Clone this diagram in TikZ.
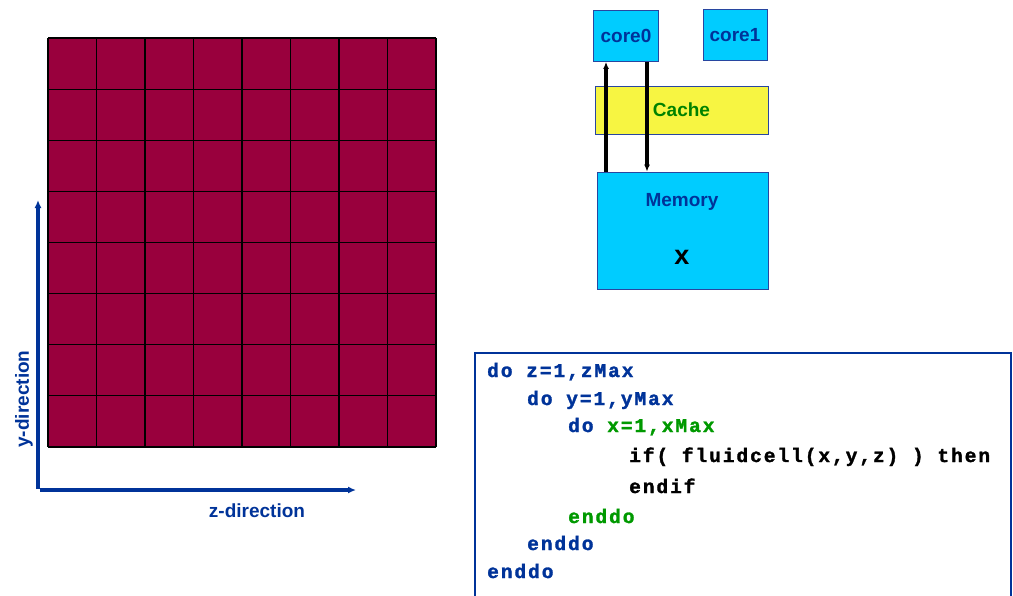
\documentclass[tikz,border=0pt]{standalone}
\usepackage{fontspec}
\setmainfont{Liberation Sans}
\newfontfamily\codefont[LetterSpace=10,FakeBold=1.6]{Liberation Mono Bold}
\usetikzlibrary{arrows.meta}
\definecolor{maroonc}{RGB}{153,0,61}
\definecolor{dblue}{RGB}{0,51,153}
\definecolor{cyanbox}{RGB}{0,204,255}
\definecolor{cacheY}{RGB}{247,245,66}
\definecolor{cgreen}{RGB}{0,130,0}
\definecolor{codegreen}{RGB}{0,153,0}
\definecolor{boxline}{RGB}{40,70,160}
\newcommand\csp{\hspace*{13.7pt}}
\tikzset{
  hw/.style={draw=boxline, line width=0.8pt, inner sep=0pt, font=\bfseries\fontsize{19}{20}\selectfont},
  code/.style={anchor=base west, inner sep=0pt, font=\codefont\fontsize{19.5}{20}\selectfont},
  lbl/.style={inner sep=0pt, text=dblue, font=\bfseries\fontsize{19}{20}\selectfont},
  arr/.style={line width=3.2pt, -{Latex[length=7pt,width=6pt]}},
  axis/.style={draw=dblue, line width=3.6pt, -{Latex[length=8pt,width=7pt]}}
}
\begin{document}
\begin{tikzpicture}[x=1pt,y=-1pt]
\useasboundingbox (0,0) rectangle (1013,595);
% grid
\fill[maroonc] (48,38) rectangle (436,447);
\foreach \i in {0,...,8} {
  \draw[black, line width=1.1pt] ({48+\i*48.5},38) -- ({48+\i*48.5},447);
  \draw[black, line width=1.1pt] (48,{38+\i*51.125}) -- (436,{38+\i*51.125});
}
% axes
\coordinate (origin) at (38,489);
\coordinate (ytip) at (38,200);
\coordinate (zstart) at (40,490);
\coordinate (ztip) at (356,490);
\draw[axis] (origin) -- (ytip);
\draw[axis] (zstart) -- (ztip);
\node[lbl, rotate=90] (ylab) at (24,399) {y-direction};
\node[lbl] (zlab) at (257,511) {z-direction};
% hardware
\node[hw, fill=cyanbox, text=dblue, minimum width=65pt, minimum height=51pt] (core0) at (626,36) {core0};
\node[hw, fill=cyanbox, text=dblue, minimum width=64pt, minimum height=51pt] (core1) at (735,35) {core1};
\node[hw, fill=cacheY, text=cgreen, minimum width=173pt, minimum height=48pt] (cache) at (681.5,110) {Cache};
\node[hw, fill=cyanbox, minimum width=171pt, minimum height=117pt] (mem) at (682.5,230.5) {};
\node[lbl] (memlbl) at (682,202) {Memory};
\node[inner sep=0pt, font=\bfseries\fontsize{27}{28}\selectfont] (xlbl) at (682,257) {x};
\coordinate (upx) at (606,0);
\coordinate (downx) at (647,0);
\draw[arr] (upx |- mem.north) -- (upx |- core0.south);
\draw[arr] (downx |- core0.south) -- (downx |- mem.north);
% code box
\begin{scope}
\clip (0,0) rectangle (1013,595);
\draw[dblue, line width=2.8pt] (475,353) rectangle (1011,640);
\end{scope}
\node[code, text=dblue] (c1) at (487,377) {do\csp z=1,zMax};
\node[code, text=dblue] (c2) at (527,405) {do\csp y=1,yMax};
\node[code, text=dblue] (c3) at (568,432) {do\csp\textcolor{codegreen}{x=1,xMax}};
\node[code, text=black] (c4) at (629,462) {if(\csp fluidcell(x,y,z)\csp)\csp then};
\node[code, text=black] (c5) at (629,493) {endif};
\node[code, text=codegreen] (c6) at (568,523) {enddo};
\node[code, text=dblue] (c7) at (527,550) {enddo};
\node[code, text=dblue] (c8) at (487,578) {enddo};
\end{tikzpicture}
\end{document}
